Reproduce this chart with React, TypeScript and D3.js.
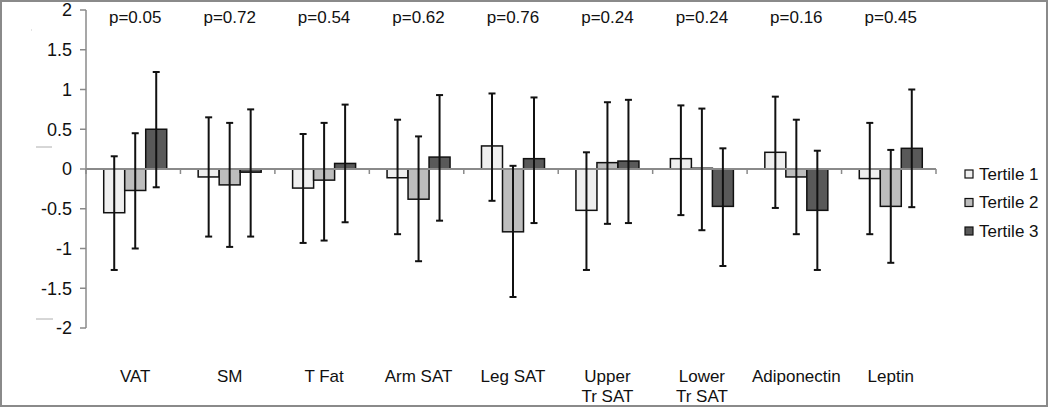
import React from "react";
import * as d3 from "d3";

const categories: string[][] = [
  ["VAT"], ["SM"], ["T Fat"], ["Arm SAT"], ["Leg SAT"],
  ["Upper", "Tr SAT"], ["Lower", "Tr SAT"], ["Adiponectin"], ["Leptin"],
];
const pValues = ["p=0.05", "p=0.72", "p=0.54", "p=0.62", "p=0.76", "p=0.24", "p=0.24", "p=0.16", "p=0.45"];
const seriesNames = ["Tertile 1", "Tertile 2", "Tertile 3"];

const tertile1 = [-0.55, -0.10, -0.24, -0.11, 0.29, -0.52, 0.13, 0.21, -0.12];
const tertile2 = [-0.27, -0.20, -0.14, -0.38, -0.79, 0.08, 0.01, -0.10, -0.47];
const tertile3 = [0.50, -0.04, 0.07, 0.15, 0.13, 0.10, -0.47, -0.52, 0.26];

const upper1 = [0.16, 0.65, 0.44, 0.62, 0.95, 0.21, 0.80, 0.91, 0.58];
const lower1 = [-1.27, -0.85, -0.93, -0.82, -0.40, -1.27, -0.58, -0.49, -0.82];
const upper2 = [0.45, 0.58, 0.58, 0.41, 0.04, 0.84, 0.76, 0.62, 0.24];
const lower2 = [-1.00, -0.98, -0.90, -1.16, -1.61, -0.69, -0.77, -0.82, -1.18];
const upper3 = [1.22, 0.75, 0.81, 0.93, 0.90, 0.87, 0.26, 0.23, 1.00];
const lower3 = [-0.23, -0.85, -0.67, -0.65, -0.68, -0.68, -1.22, -1.27, -0.48];

const yTicks = [2, 1.5, 1, 0.5, 0, -0.5, -1, -1.5, -2];

const values = [tertile1, tertile2, tertile3];
const uppers = [upper1, upper2, upper3];
const lowers = [lower1, lower2, lower3];
const colors = ["#efefef", "#bdbdbd", "#595959"];

export default function App() {
  const W = 1050, H = 408;
  const x0 = 86, x1 = 936;
  const y = d3.scaleLinear().domain([-2, 2]).range([328, 10]);
  const xCat = d3.scaleBand<number>().domain(d3.range(categories.length)).range([x0, x1]).paddingInner(0).paddingOuter(0);
  const bw = 21;
  const groupW = bw * 3;
  const xBar = d3.scaleBand<number>().domain([0, 1, 2]).range([0, groupW]).padding(0);
  const font = "'Liberation Sans', Arial, sans-serif";
  const zeroY = y(0);
  const cap = 3.5;

  return (
    <svg width={W} height={H} style={{ display: "block", position: "absolute", left: 0, top: 0 }} fontFamily={font}>
      <rect x={0} y={0} width={W} height={H} fill="#fff" />
      <rect x={1} y={1} width={1046} height={405} fill="none" stroke="#8a8a8a" strokeWidth={2} />
      {/* stray marks */}
      <line x1={36} x2={52} y1={147} y2={147} stroke="#999" strokeWidth={0.8} />
      <line x1={36} x2={53} y1={319} y2={319} stroke="#999" strokeWidth={0.8} />
      <line x1={31} x2={32} y1={30} y2={30} stroke="#bbb" strokeWidth={0.8} />

      {/* y axis */}
      <line x1={x0} x2={x0} y1={y(2)} y2={y(-2)} stroke="#8a8a8a" strokeWidth={1.5} />
      {yTicks.map((t) => (
        <g key={t}>
          <line x1={x0 - 6} x2={x0} y1={y(t)} y2={y(t)} stroke="#8a8a8a" strokeWidth={1.5} />
          <text x={72} y={y(t)} dy="0.35em" textAnchor="end" fontSize={18} fill="#111">{String(t)}</text>
        </g>
      ))}

      {/* bars */}
      {categories.map((_, i) => {
        const cx = (xCat(i) as number) + xCat.bandwidth() / 2;
        const gx = cx - groupW / 2 + 2;
        return (
          <g key={"b" + i}>
            {values.map((vals, s) => {
              const v = vals[i];
              const bx = gx + (xBar(s) as number);
              return (
                <rect key={s} x={bx} y={Math.min(y(v), zeroY)} width={xBar.bandwidth()} height={Math.abs(y(v) - zeroY)}
                  fill={colors[s]} stroke="#111" strokeWidth={1.5} />
              );
            })}
          </g>
        );
      })}

      {/* zero axis */}
      <line x1={x0} x2={x1} y1={zeroY} y2={zeroY} stroke="#8a8a8a" strokeWidth={1.8} />
      {d3.range(categories.length + 1).map((k) => {
        const tx = x0 + k * xCat.bandwidth();
        return <line key={"t" + k} x1={tx} x2={tx} y1={zeroY} y2={zeroY + 5} stroke="#8a8a8a" strokeWidth={1.5} />;
      })}

      {/* error bars */}
      {categories.map((_, i) => {
        const cx = (xCat(i) as number) + xCat.bandwidth() / 2;
        const gx = cx - groupW / 2 + 2;
        return (
          <g key={"e" + i}>
            {values.map((_, s) => {
              const ex = gx + (xBar(s) as number) + xBar.bandwidth() / 2;
              const yu = y(uppers[s][i]);
              const yl = y(lowers[s][i]);
              return (
                <g key={s} stroke="#111" strokeWidth={2}>
                  <line x1={ex} x2={ex} y1={yu} y2={yl} />
                  <line x1={ex - cap} x2={ex + cap} y1={yu} y2={yu} />
                  <line x1={ex - cap} x2={ex + cap} y1={yl} y2={yl} />
                </g>
              );
            })}
          </g>
        );
      })}

      {/* p values */}
      {pValues.map((p, i) => {
        const cx = (xCat(i) as number) + xCat.bandwidth() / 2 + 2;
        return <text key={"p" + i} x={cx} y={23} textAnchor="middle" fontSize={17} fill="#111">{p}</text>;
      })}

      {/* category labels */}
      {categories.map((lines, i) => {
        const cx = (xCat(i) as number) + xCat.bandwidth() / 2 + 2;
        return (
          <text key={"c" + i} x={cx} y={382} textAnchor="middle" fontSize={17} fill="#111">
            {lines.map((l, k) => (
              <tspan key={k} x={cx} dy={k === 0 ? 0 : 19.5}>{l}</tspan>
            ))}
          </text>
        );
      })}

      {/* legend */}
      {seriesNames.map((n, s) => {
        const ly = 174 + s * 28.5;
        return (
          <g key={"l" + s}>
            <rect x={965} y={ly - 4} width={8} height={8} fill={colors[s]} stroke="#111" strokeWidth={1.2} />
            <text x={979} y={ly} dy="0.35em" fontSize={17} fill="#111">{n}</text>
          </g>
        );
      })}
    </svg>
  );
}
